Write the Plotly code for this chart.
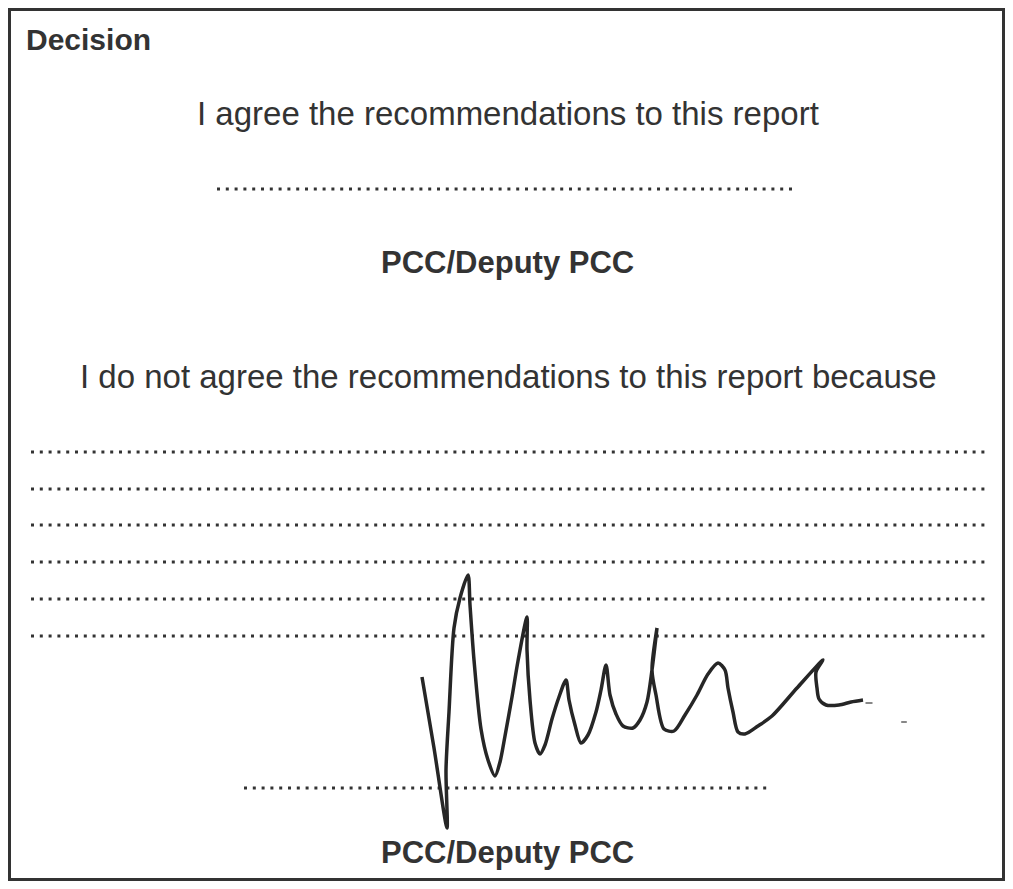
import plotly.graph_objects as go

# ---- content (text) ----
heading = "Decision"
agree_text = "I agree the recommendations to this report"
disagree_text = "I do not agree the recommendations to this report because"
signer_label = "PCC/Deputy PCC"

# ---- dotted writing lines: [x_start, x_end, y] in page pixels ----
line_agree = [217, 797, 189]
reason_line_ys = [452, 489, 525, 562, 599, 636]
reason_line_x = [31, 986]
line_disagree = [244, 772, 788]

# ---- hand-drawn signature stroke (page pixels) ----
sig_x = [422, 434, 447, 446, 449, 454, 460, 468, 470, 474, 481, 488, 495, 500, 505, 512, 518, 527,
         527, 530, 535, 540, 545, 552, 559, 566, 569, 575, 581, 588, 596, 601, 606, 610, 616, 623,
         633, 640, 647, 652, 657, 652, 656, 664, 674, 685, 697, 708, 718, 725, 728, 733, 738, 745,
         758, 772, 797, 823, 816, 817, 819, 826, 839, 851, 863]
sig_y = [677, 748, 828, 770, 712, 628, 598, 575, 605, 660, 729, 760, 776, 762, 736, 697, 661, 617,
         650, 700, 743, 754, 745, 719, 697, 680, 700, 725, 743, 735, 712, 690, 665, 695, 714, 726,
         728, 720, 702, 670, 628, 670, 695, 729, 731, 715, 695, 674, 663, 670, 688, 712, 732, 734,
         726, 716, 688, 660, 672, 688, 699, 705, 705, 702, 700]
smudge_x = [869, 904]
smudge_y = [703, 722]

# page window 1013x889; the html body has an 8px margin, so the figure is
# sized to fit inside it and data coordinates equal window pixels.
WIN_W, WIN_H = 1013, 889
OFF = 8
W, H = WIN_W - 2 * OFF, WIN_H - 2 * OFF
INK = "#333333"
FONT = "Liberation Sans, Arial, sans-serif"

fig = go.Figure()

dash = "3px,5.8px"
fig.add_trace(go.Scatter(x=[line_agree[0], line_agree[1]], y=[line_agree[2]] * 2, mode="lines",
                         line=dict(color=INK, width=3, dash=dash), hoverinfo="skip", showlegend=False))
for yy in reason_line_ys:
    fig.add_trace(go.Scatter(x=reason_line_x, y=[yy, yy], mode="lines",
                             line=dict(color=INK, width=3, dash=dash), hoverinfo="skip", showlegend=False))
fig.add_trace(go.Scatter(x=[line_disagree[0], line_disagree[1]], y=[line_disagree[2]] * 2, mode="lines",
                         line=dict(color=INK, width=3, dash=dash), hoverinfo="skip", showlegend=False))

fig.add_trace(go.Scatter(x=sig_x, y=sig_y, mode="lines",
                         line=dict(color="#262626", width=3.5, shape="spline", smoothing=0.8),
                         hoverinfo="skip", showlegend=False))
fig.add_trace(go.Scatter(x=smudge_x, y=smudge_y, mode="markers",
                         marker=dict(color="#555555", size=[5, 4], symbol="line-ew",
                                     line=dict(color="#555555", width=2)),
                         hoverinfo="skip", showlegend=False))

fig.add_shape(type="rect", x0=OFF + 1.5, x1=OFF + W - 1.5, y0=OFF + 1.5, y1=OFF + H - 1.5,
              xref="x", yref="y", line=dict(color=INK, width=3), fillcolor="rgba(0,0,0,0)")

ann = [
    dict(text="<b>" + heading + "</b>", x=24, y=39, xanchor="left", size=30),
    dict(text=agree_text, x=508, y=113, xanchor="center", size=33),
    dict(text="<b>" + signer_label + "</b>", x=507, y=262, xanchor="center", size=31),
    dict(text=disagree_text, x=508, y=376, xanchor="center", size=33),
    dict(text="<b>" + signer_label + "</b>", x=507, y=852, xanchor="center", size=31),
]
for a in ann:
    fig.add_annotation(text=a["text"], x=a["x"], y=a["y"], xref="x", yref="y",
                       xanchor=a["xanchor"], yanchor="middle", showarrow=False,
                       font=dict(family=FONT, size=a["size"], color=INK))

fig.update_xaxes(range=[OFF, OFF + W], visible=False, fixedrange=True)
fig.update_yaxes(range=[OFF + H, OFF], visible=False, fixedrange=True)
fig.update_layout(width=W, height=H, margin=dict(l=0, r=0, t=0, b=0),
                  paper_bgcolor="white", plot_bgcolor="white")

fig.write_html("out.html")
